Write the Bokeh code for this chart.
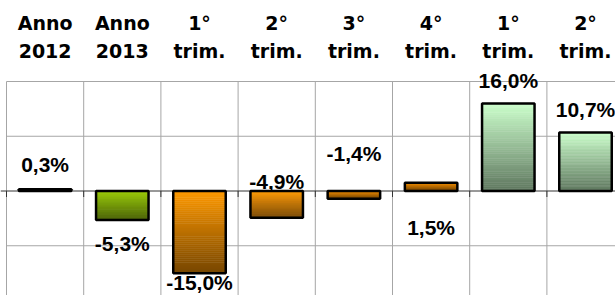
from bokeh.plotting import figure
from bokeh.models import Range1d
from bokeh.core.properties import value
from bokeh.embed import file_html
from bokeh.resources import INLINE

# ---- data ----
cat_line1 = ["Anno", "Anno", "1°", "2°", "3°", "4°", "1°", "2°"]
cat_line2 = ["2012", "2013", "trim.", "trim.", "trim.", "trim.", "trim.", "trim."]
values = [0.3, -5.3, -15.0, -4.9, -1.4, 1.5, 16.0, 10.7]
value_labels = ["0,3%", "-5,3%", "-15,0%", "-4,9%", "-1,4%", "1,5%", "16,0%", "10,7%"]
label_pos = [3.43, -10.87, -18.05, 0.40, 5.44, -7.95, 18.9, 13.6]
top_colors = ["#333333", "#99cc00", "#ff9900", "#ff9900",
              "#ff9900", "#ff9900", "#ccffcc", "#ccffcc"]
grid_values = [-20, -10, 0, 10, 20]

# ---- geometry / style ----
n = len(values)
fig_w, fig_h = 615, 295
px_per_cat = 77.2
px_per_unit = 5.475
left_px = 6          # pixel position of category 0 edge
zero_px = 190.5      # pixel position of the 0 line
x_start = -left_px / px_per_cat
x_end = x_start + fig_w / px_per_cat
y_end = zero_px / px_per_unit
y_start = y_end - fig_h / px_per_unit
row1_y = (zero_px - 22.5) / px_per_unit
row2_y = (zero_px - 50.0) / px_per_unit
label_nudge = 7.5 / px_per_unit
bar_w = 0.68
dark_factor = 0.47
n_slices = 40
grid_color = "#a6a6a6"


def hex_to_rgb(h):
    h = h.lstrip("#")
    return tuple(int(h[i:i + 2], 16) for i in (0, 2, 4))


def mix(c1, c2, t):
    a, b = hex_to_rgb(c1), hex_to_rgb(c2)
    return "#%02x%02x%02x" % tuple(int(round(a[k] + (b[k] - a[k]) * t)) for k in range(3))


def darker(c, f):
    r, g, b = hex_to_rgb(c)
    return "#%02x%02x%02x" % (int(r * f), int(g * f), int(b * f))


p = figure(width=fig_w, height=fig_h, output_backend="svg", toolbar_location=None,
           x_range=Range1d(x_start, x_end), y_range=Range1d(y_start, y_end),
           x_axis_location=None, y_axis_location=None,
           min_border=0)
p.outline_line_color = None
p.xgrid.visible = False
p.ygrid.visible = False
p.background_fill_color = "white"
p.border_fill_color = "white"

gmax = max(grid_values)
gmin = min(grid_values)

# vertical grid lines at category boundaries
p.segment(x0=list(range(n + 1)), x1=list(range(n + 1)),
          y0=[gmin] * (n + 1), y1=[gmax] * (n + 1),
          line_color=grid_color, line_width=1)
# horizontal grid lines
hg = [g for g in grid_values if g != 0]
p.segment(x0=[0] * len(hg), x1=[n] * len(hg), y0=hg, y1=hg,
          line_color=grid_color, line_width=1)

# zero line and ticks below it
p.segment(x0=[x_start], x1=[x_end], y0=[0], y1=[0],
          line_color="#333333", line_width=1)
tick_len = 6 / px_per_unit
p.segment(x0=list(range(n + 1)), x1=list(range(n + 1)),
          y0=[0] * (n + 1), y1=[-tick_len] * (n + 1),
          line_color="#333333", line_width=1)

# gradient bars
L, R, B, T, C = [], [], [], [], []
for i, v in enumerate(values):
    top = max(v, 0)
    bot = min(v, 0)
    h = top - bot
    c_top = top_colors[i]
    c_bot = darker(c_top, dark_factor)
    for j in range(n_slices):
        L.append(i + 0.5 - bar_w / 2)
        R.append(i + 0.5 + bar_w / 2)
        T.append(top - h * j / n_slices)
        B.append(top - h * (j + 1) / n_slices)
        C.append(mix(c_top, c_bot, (j + 0.5) / n_slices))
p.quad(left=L, right=R, bottom=B, top=T, fill_color=C, line_color=C, line_width=0.5)

# bar outlines
p.quad(left=[i + 0.5 - bar_w / 2 for i in range(n)],
       right=[i + 0.5 + bar_w / 2 for i in range(n)],
       bottom=[min(v, 0) for v in values], top=[max(v, 0) for v in values],
       fill_color=None, line_color="black", line_width=2.5)

# category labels (two rows)
xc = [i + 0.5 for i in range(n)]
for row, yy in ((cat_line1, row1_y), (cat_line2, row2_y)):
    p.text(x=xc, y=[yy] * n, text=row,
           text_font=value("DejaVu Sans"), text_font_style="bold",
           text_font_size="19px", text_color="black",
           text_align="center", text_baseline="alphabetic")

# value labels
p.text(x=xc, y=[y + label_nudge for y in label_pos], text=value_labels,
       text_font=value("Liberation Sans"), text_font_style="bold",
       text_font_size="21px", text_color="black",
       text_align="center", text_baseline="alphabetic")

open("out.html", "w").write(file_html(p, INLINE))
